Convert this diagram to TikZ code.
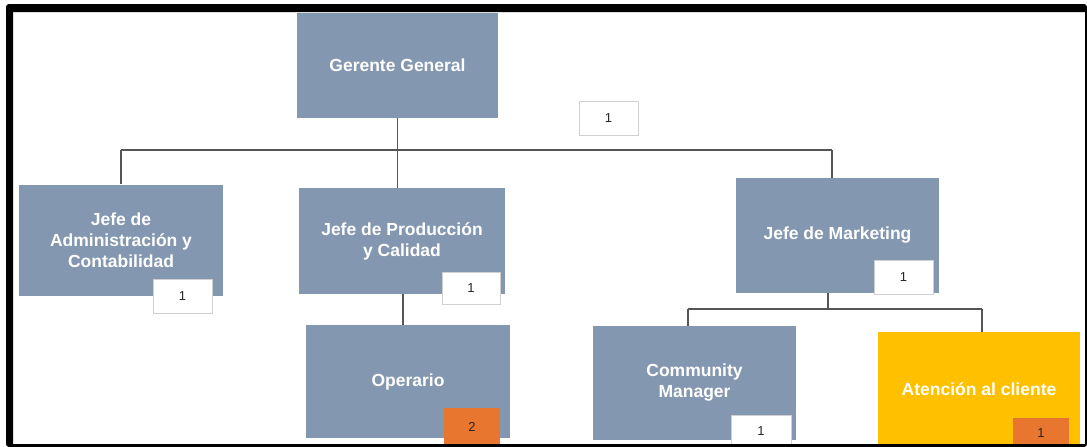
\documentclass[tikz,border=0pt]{standalone}
\usepackage{fontspec}
\setmainfont{Liberation Sans}
\definecolor{bluegray}{HTML}{8497B0}
\definecolor{gold}{HTML}{FFC000}
\definecolor{orangebox}{HTML}{E8762F}
\definecolor{linegray}{HTML}{555555}
\definecolor{numborder}{HTML}{D0D0D0}
\begin{document}
\begin{tikzpicture}[x=1pt,y=-1pt,
  posbox/.style={fill=bluegray, draw=none, inner sep=2pt, align=center, text=white,
     font=\fontsize{17.5}{21}\selectfont\bfseries},
  yellowbox/.style={posbox, fill=gold},
  numbox/.style={fill=white, draw=numborder, line width=0.8pt, inner sep=0pt,
     font=\fontsize{13}{15}\selectfont, text=black!85},
  orangenum/.style={numbox, fill=orangebox, draw=none},
  conn/.style={draw=linegray, line width=1.4pt}]
\useasboundingbox (0,0) rectangle (1087,447);
\fill[white] (0,0) rectangle (1087,447);

% position boxes
\node[posbox, minimum width=201pt, minimum height=105pt] (ger) at (397.5,65.5) {Gerente General};
\node[posbox, minimum width=204pt, minimum height=111pt] (adm) at (121,240) {Jefe de\\Administración y\\Contabilidad};
\node[posbox, minimum width=206pt, minimum height=106pt] (prod) at (402,241) {Jefe de Producción\\y Calidad};
\node[posbox, minimum width=203pt, minimum height=115pt] (mkt) at (837.5,235.5) {Jefe de Marketing};
\node[posbox, minimum width=204pt, minimum height=113pt] (ope) at (408,381.5) {Operario};
\node[posbox, minimum width=203pt, minimum height=114pt] (cm) at (694.5,383) {Community\\Manager};
\node[yellowbox, minimum width=202pt, minimum height=114pt] (at) at (979,389) {Atención al cliente};

% connectors
\coordinate (busL) at (121,150);
\coordinate (busR) at (832,150);
\coordinate (bus2L) at (688,309);
\coordinate (bus2R) at (982,309);
\coordinate (mktdown) at (828,293);
\draw[conn] (busL) -- (busR);
\draw[conn] (ger.south) -- (ger.south |- prod.north);
\draw[conn] (busL) -- (adm.north);
\draw[conn] (busR) -- (busR |- mkt.north);
\draw[conn] (prod.south -| 403,0) -- (ope.north -| 403,0);
\draw[conn] (mktdown) -- (mktdown |- bus2L);
\draw[conn] (bus2L) -- (bus2R);
\draw[conn] (bus2L) -- (bus2L |- cm.north);
\draw[conn] (bus2R) -- (bus2R |- at.north);

% count boxes
\node[numbox, minimum width=59pt, minimum height=34pt] (n0) at (608.5,118) {1};
\node[numbox, minimum width=59pt, minimum height=34pt] (n1) at (182.5,296) {1};
\node[numbox, minimum width=58pt, minimum height=32pt] (n2) at (471,288) {1};
\node[numbox, minimum width=59pt, minimum height=34pt] (n3) at (903.5,277) {1};
\node[numbox, minimum width=60pt, minimum height=33pt] (n4) at (761,431.5) {1};
\node[orangenum, minimum width=56pt, minimum height=38pt] (n5) at (472,427) {2};
\node[orangenum, minimum width=56pt, minimum height=30pt] (n6) at (1041,433) {1};

% frame
\fill[black, even odd rule, rounded corners=3pt] (6,4) rectangle (1087,447)
  [sharp corners] (13,12) rectangle (1085,444);
\end{tikzpicture}
\end{document}
